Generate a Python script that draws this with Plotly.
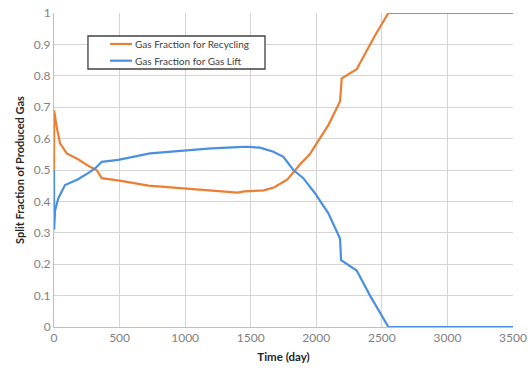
import plotly.graph_objects as go

# Gas Fraction for Recycling
rec_t = [0, 1, 20, 46, 97, 180, 275, 325, 364, 500, 720, 1000, 1200, 1400, 1450, 1600, 1680, 1780, 1880, 1950, 2003, 2092, 2181, 2194, 2308, 2384, 2450, 2550, 3500]
rec_v = [0.5, 0.69, 0.638, 0.585, 0.553, 0.535, 0.51, 0.5, 0.474, 0.466, 0.45, 0.44, 0.433, 0.428, 0.432, 0.435, 0.445, 0.47, 0.52, 0.55, 0.585, 0.643, 0.718, 0.792, 0.821, 0.882, 0.93, 1.0, 1.0]

# Gas Fraction for Gas Lift
lift_t = [0, 1, 8, 33, 84, 180, 260, 313, 364, 490, 732, 1000, 1200, 1400, 1469, 1571, 1673, 1749, 1825, 1901, 1990, 2092, 2181, 2189, 2308, 2410, 2550, 3500]
lift_v = [0.5, 0.31, 0.37, 0.41, 0.452, 0.47, 0.49, 0.505, 0.526, 0.532, 0.553, 0.563, 0.569, 0.573, 0.574, 0.571, 0.558, 0.542, 0.5, 0.474, 0.426, 0.362, 0.282, 0.213, 0.18, 0.1, 0.0, 0.0]

series_names = ["Gas Fraction for Recycling", "Gas Fraction for Gas Lift"]
series_colors = ["#ED7D31", "#4A8FE0"]

x_ticks = [0, 500, 1000, 1500, 2000, 2500, 3000, 3500]
y_ticks = [0, 0.1, 0.2, 0.3, 0.4, 0.5, 0.6, 0.7, 0.8, 0.9, 1]

fig = go.Figure()
fig.add_trace(go.Scatter(x=rec_t, y=rec_v, mode="lines", name=series_names[0],
                         line=dict(color=series_colors[0], width=2.2)))
fig.add_trace(go.Scatter(x=lift_t, y=lift_v, mode="lines", name=series_names[1],
                         line=dict(color=series_colors[1], width=2.2)))

font_family = "Lato, Open Sans, sans-serif"

# Legend box drawn in paper coordinates (Excel-like boxed legend)
shapes = [dict(type="rect", xref="paper", yref="paper", x0=0.074, x1=0.4597, y0=0.8217, y1=0.9268,
               line=dict(color="#404040", width=1.3), fillcolor="white", layer="above")]
annotations = []
legend_rows = [0.9013, 0.8481]
for name, color, yy in zip(series_names, series_colors, legend_rows):
    shapes.append(dict(type="line", xref="paper", yref="paper", x0=0.122, x1=0.170, y0=yy, y1=yy,
                       line=dict(color=color, width=2.2), layer="above"))
    annotations.append(dict(xref="paper", yref="paper", x=0.172, y=yy, xanchor="left", yanchor="middle",
                            text=name, showarrow=False,
                            font=dict(size=10, color="#404040", family=font_family)))

fig.update_layout(
    width=528, height=369,
    margin=dict(l=54, r=15, t=13, b=42),
    paper_bgcolor="white", plot_bgcolor="white",
    font=dict(family=font_family, size=11, color="#595959"),
    showlegend=False,
    shapes=shapes, annotations=annotations,
    xaxis=dict(range=[0, 3500], tickvals=x_ticks, showgrid=True, gridcolor="#d4d4d4", gridwidth=1,
               zeroline=False, showline=True, linecolor="#bfbfbf", linewidth=1, ticks="",
               automargin=False, ticklabeloverflow="allow",
               title=dict(text="<b>Time (day)</b>", font=dict(size=11.5, color="#262626"), standoff=8),
               tickfont=dict(size=12, color="#7f7f7f")),
    yaxis=dict(range=[0, 1], tickvals=y_ticks, showgrid=True, gridcolor="#d4d4d4", gridwidth=1,
               zeroline=False, showline=True, linecolor="#bfbfbf", linewidth=1, ticks="",
               automargin=False, ticklabeloverflow="allow",
               title=dict(text="<b>Split Fraction of Produced Gas</b>", font=dict(size=11, color="#262626"), standoff=6),
               tickfont=dict(size=12, color="#7f7f7f")),
)
fig.write_html("out.html", config={"displayModeBar": False},
               post_script="document.body.style.margin='0';")
